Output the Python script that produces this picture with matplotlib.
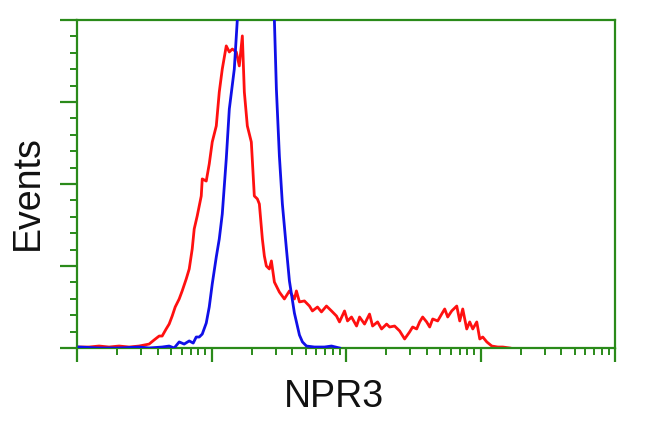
import numpy as np
import matplotlib
matplotlib.use("Agg")
import matplotlib.pyplot as plt
from matplotlib.ticker import FixedLocator, LogLocator, NullFormatter, MultipleLocator

# channel (256 per decade, 4 decades) and event counts
red_ch = [3.8, 22.9, 42.0, 61.0, 80.1, 99.2, 118.2, 127.8, 137.3, 146.8, 156.4, 162.1, 169.7, 175.4,
          181.2, 186.9, 194.5, 200.2, 207.9, 213.6, 219.3, 223.1, 228.8, 236.5, 238.4, 246.0, 251.7,
          257.4, 265.1, 270.8, 276.5, 284.1, 289.9, 295.6, 303.2, 308.9, 314.7, 318.5, 324.2, 331.8,
          337.5, 343.3, 347.1, 352.8, 356.6, 360.4, 366.1, 370.0, 375.7,
          385.2, 394.7, 404.3, 413.8, 417.6, 423.4, 432.9, 442.4, 448.1, 457.7, 465.3, 474.8,
          484.4, 493.9, 499.6, 509.2, 514.9, 522.5, 532.1, 537.8, 547.3, 556.8, 562.6, 572.1,
          579.7, 589.3, 595.0, 604.5, 614.1, 623.6, 633.1, 638.8, 646.5, 652.2, 657.9, 665.5,
          671.3, 677.0, 686.5, 694.1, 699.9, 705.6, 713.2, 722.8, 728.5, 734.2, 741.8, 747.5,
          753.3, 760.9, 766.6, 772.3, 780.0, 789.5, 800.9, 810.5, 823.8]
red_counts = [0.6, 0.6, 1.2, 0.6, 1.2, 0.6, 1.2, 1.8, 2.4, 4.9, 7.3, 7.3, 11.6, 14.6,
              19.5, 25.0, 29.9, 34.8, 42.1, 48.2, 60.4, 72.6, 80.5, 92.7, 103.1, 101.8, 112.2,
              125.6, 135.4, 156.1, 170.1, 184.2, 180.5, 182.3, 180.5, 172.0, 190.3, 156.1, 135.4, 125.6,
              92.7, 90.9, 87.8, 66.5, 56.1, 50.0, 48.2, 53.1, 40.2,
              34.1, 29.9, 34.8, 29.9, 34.8, 28.1, 28.7, 25.6, 22.6, 25.0, 22.0, 25.6,
              22.6, 19.5, 15.9, 22.6, 16.5, 18.9, 13.4, 18.9, 14.6, 20.7, 13.4, 15.9,
              11.6, 14.6, 12.8, 13.4, 10.4, 5.5, 9.8, 12.8, 11.6, 15.9, 18.9, 15.9,
              12.8, 17.7, 16.5, 20.7, 23.8, 18.9, 22.6, 25.6, 16.5, 23.8, 11.6, 15.9,
              11.6, 15.9, 5.5, 6.7, 3.7, 1.2, 0.6, 0.6, 0.0]

blue_ch = [3.8, 42.0, 80.1, 118.2, 137.3, 162.1, 175.4, 185.0, 194.5, 204.0, 213.6, 221.2, 226.9,
           232.7, 238.4, 246.0, 251.7, 257.4, 265.1, 270.8, 276.5, 284.1, 289.9, 299.4, 305.1,
           314.7, 328.0, 341.4, 356.6, 366.1, 375.7, 379.5, 385.2, 390.9, 398.6, 404.3, 413.8,
           423.4, 429.1, 436.7, 452.0, 471.0, 484.4, 499.6]
blue_counts = [0.6, 0.0, 0.0, 0.6, 0.0, 0.6, 1.2, 0.0, 3.7, 2.4, 4.3, 3.0, 6.7,
               6.7, 8.5, 15.2, 25.0, 39.0, 55.5, 66.5, 81.7, 115.3, 145.7, 170.1, 200.0,
               249.4, 304.3, 334.8, 304.3, 249.4, 200.0, 157.9, 117.1, 87.8, 60.4, 40.9, 21.3,
               7.9, 3.7, 1.2, 0.6, 0.6, 1.2, 0.0]

x_label = "NPR3"
y_label = "Events"

green = "#2a8a1a"

fig = plt.figure(figsize=(6.5, 4.31), dpi=100)
ax = fig.add_axes([77 / 650, 1 - 349 / 431, (615 - 77) / 650, (349 - 21) / 431])

red_x = 10 ** (np.array(red_ch) / 256.0)
blue_x = 10 ** (np.array(blue_ch) / 256.0)
ax.plot(red_x, red_counts, color="#ff1010", lw=2.0, zorder=2)
ax.plot(blue_x, blue_counts, color="#1010e8", lw=2.0, zorder=3)

ax.set_xscale("log")
ax.set_xlim(1, 10 ** 4)
ax.set_ylim(0, 200)

ax.xaxis.set_major_locator(FixedLocator([1, 10, 100, 1000, 10000]))
ax.xaxis.set_minor_locator(LogLocator(base=10, subs=np.arange(2, 10)))
ax.xaxis.set_major_formatter(NullFormatter())
ax.xaxis.set_minor_formatter(NullFormatter())
ax.yaxis.set_major_locator(MultipleLocator(50))
ax.yaxis.set_minor_locator(MultipleLocator(10))
ax.yaxis.set_major_formatter(NullFormatter())

for s in ax.spines.values():
    s.set_color(green)
    s.set_linewidth(1.6)

ax.tick_params(axis="x", which="major", direction="out", length=10, width=1.6, color=green)
ax.tick_params(axis="x", which="minor", direction="out", length=5, width=1.4, color=green)
ax.tick_params(axis="y", which="major", direction="out", length=12, width=1.6, color=green)
ax.tick_params(axis="y", which="minor", direction="out", length=5, width=1.4, color=green)

fig.text(334 / 650, 1 - 397 / 431, x_label, ha="center", va="center", fontsize=27,
         family="Liberation Sans", color="#111111")
fig.text(28 / 650, 1 - 193 / 431, y_label, ha="center", va="center", fontsize=27,
         family="Liberation Sans", rotation=90, color="#111111")

fig.savefig("out.png", dpi=100)
